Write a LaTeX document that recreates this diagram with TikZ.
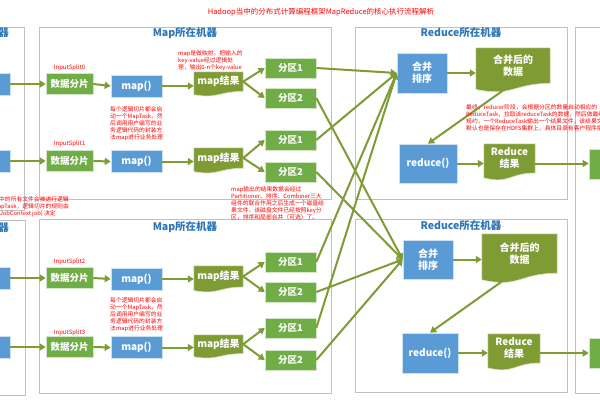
\documentclass[tikz,border=0pt]{standalone}
\usepackage{fontspec}
\setmainfont{Noto Sans CJK SC}
\usetikzlibrary{arrows.meta,calc}
\definecolor{gfill}{HTML}{70AD47}
\definecolor{bfill}{HTML}{5B9BD5}
\definecolor{dfill}{HTML}{7F9B34}
\definecolor{arr}{HTML}{7F9B34}
\definecolor{mframe}{HTML}{C0C0C0}
\definecolor{ttl}{HTML}{2E75B6}
\pgfdeclarelayer{bg}
\pgfsetlayers{bg,main}
\newcommand\docfill[1]{%
\begin{pgfonlayer}{bg}
\path[fill=dfill, draw=white!70!dfill, line width=0.6pt] let \p1=(#1.north west), \p2=(#1.south east), \p3=($(#1.north)-(#1.south)$) in
 (\x1,\y1) -- (\x2,\y1) -- (\x2,\y2) .. controls ({0.5*(\x1+\x2)},\y2) and ({0.5*(\x1+\x2)},{\y2-0.384*\y3}) .. (\x1,{\y2-0.168*\y3}) -- cycle;
\end{pgfonlayer}}
\tikzset{
 sz/.style 2 args={minimum width=#1pt, minimum height=#2pt},
 gbox/.style={fill=gfill, draw=white!70!gfill, line width=0.6pt, text=white, inner sep=0pt, font=\bfseries\fontsize{9.5}{11}\selectfont},
 bbox/.style={fill=bfill, draw=white!70!bfill, line width=0.6pt, text=white, inner sep=0pt, align=center, font=\bfseries\fontsize{10}{12}\selectfont},
 docnode/.style={inner sep=0pt, text=white, align=center, font=\bfseries\fontsize{10}{12}\selectfont},
 flow/.style={draw=arr, line width=2pt, -{Triangle[length=6pt,width=7pt]}},
 frm/.style={draw=mframe, line width=0.9pt},
 mlabel/.style={text=ttl, inner sep=0pt, font=\bfseries\fontsize{10.5}{12}\selectfont},
 note/.style={text=red, inner sep=0pt, align=left, font=\fontsize{5.8}{7}\selectfont},
 split/.style={text=red, inner sep=0pt, font=\fontsize{6}{7}\selectfont},
}
\begin{document}
\begin{tikzpicture}[x=1pt,y=-1pt]
\begin{pgfonlayer}{bg}
\fill[white] (0,0) rectangle (600,400);
\end{pgfonlayer}
\useasboundingbox (0,0) rectangle (600,400);
% machine frames
\draw[frm] (-5,27) rectangle (24,210);
\draw[frm] (-5,220) rectangle (25,395);
\draw[frm] (39,27) rectangle (331,199);
\draw[frm] (39,219) rectangle (331,393);
\draw[frm] (355,27) rectangle (567,199);
\draw[frm] (355,219) rectangle (567,392);
\draw[frm] (575,27) rectangle (620,393);
% labels
\node[note, text=red, font=\fontsize{7.5}{9}\selectfont] (title) at (321,12) {Hadoop当中的分布式计算编程框架MapReduce的核心执行流程解析};
\node[mlabel, anchor=east] (lbl0) at (9,33) {机器};
\node[mlabel] (lbl1) at (185,33) {Map所在机器};
\node[mlabel] (lbl2) at (461,33) {Reduce所在机器};
\node[mlabel, anchor=east] (lbl3) at (9,228) {机器};
\node[mlabel] (lbl4) at (185,227) {Map所在机器};
\node[mlabel] (lbl5) at (461,226) {Reduce所在机器};
% map rows
\foreach \i/\n/\yd/\ym/\yr/\hr/\ya/\yb/\yl in {1/0/84/86/81.6/19.2/68/98/68, 2/1/161/161.5/158/20/140/172/144, 3/2/278/279/276.4/20.8/262/292/262, 4/3/347/347.5/344.2/18.4/328/360/333}{
 \node[bbox, sz={20}{22}] (L\i) at (0,\yd) {};
 \node[split] (s\i) at (69.5,\yl) {InputSplit\n};
 \node[gbox, sz={47}{21}] (ds\i) at (69.5,\yd) {数据分片};
 \node[bbox, sz={51}{22}] (map\i) at (136.5,\ym) {map()};
 \node[docnode, sz={49}{\hr}] (mr\i) at (218.5,\yr) {map结果};
 \docfill{mr\i}
 \node[gbox, sz={51}{20}] (p\i1) at (290.5,\ya) {分区1};
 \node[gbox, sz={51}{20}] (p\i2) at (290.5,\yb) {分区2};
 \draw[flow] (L\i.east) -- (ds\i.west);
 \draw[flow] (ds\i.east) -- (map\i.west);
 \draw[flow] (map\i.east) -- (mr\i.west |- map\i.east);
 \draw[flow] (mr\i.east) -- (p\i1.west);
 \draw[flow] (mr\i.east) -- (p\i2.west);
}
% reduce side
\node[bbox, sz={50}{40}] (mg1) at (422,73) {合并\\排序};
\node[docnode, sz={74}{35.2}] (md1) at (513,65.6) {合并后的\\数据};
\docfill{md1}
\node[bbox, sz={58}{39}] (rd1) at (428,163.5) {reduce()};
\node[docnode, sz={51}{28.8}] (rr1) at (509.5,158.4) {Reduce\\结果};
\docfill{rr1}
\node[gbox, sz={31}{30}] (R1) at (604.5,164) {};
\node[bbox, sz={50}{39}] (mg2) at (428,259.5) {合并\\排序};
\node[docnode, sz={75}{39}] (md2) at (519.5,253.5) {合并后的\\数据};
\docfill{md2}
\node[bbox, sz={56}{40}] (rd2) at (430,353) {reduce()};
\node[docnode, sz={52}{28.8}] (rr2) at (514,348.4) {Reduce\\结果};
\docfill{rr2}
\node[gbox, sz={31}{30}] (R2) at (604.5,353) {};
% shuffle
\foreach \i in {1,...,4}{
 \draw[flow] (p\i1.east) -- (mg1.west);
 \draw[flow] (p\i2.east) -- (mg2.west);
}
\draw[flow] (mg1.east) -- (md1.west |- mg1.east);
\draw[flow] (md1.south) -- (rd1.north);
\draw[flow] (rd1.east) -- (rr1.west |- rd1.east);
\draw[flow] (rr1.east |- rd1.east) -- (R1.west |- rd1.east);
\draw[flow] (mg2.east) -- (md2.west |- mg2.east);
\draw[flow] ([xshift=-6pt]md2.south) -- (rd2.north);
\draw[flow] (rd2.east) -- (rr2.west |- rd2.east);
\draw[flow] (rr2.east |- rd2.east) -- (R2.west |- rd2.east);
% notes
\node[note, anchor=north west] (n1) at (178,50) {map是做映射，把输入的\\key-value经过逻辑处\\理，输出0-n个key-value};
\node[note, anchor=north west] (n2) at (110,106) {每个逻辑切片都会启\\动一个MapTask，然\\后调用用户编写的业\\务逻辑代码的封装方\\法map进行业务处理};
\node[note, anchor=north west] (n3) at (110,297) {每个逻辑切片都会启\\动一个MapTask，然\\后调用用户编写的业\\务逻辑代码的封装方\\法map进行业务处理};
\node[note, anchor=north west] (n4) at (231,186) {map输出的结果数据会经过\\Partitioner、排序、Combiner三大\\组件的联合作用之后生成一个磁盘结\\果文件，该磁盘文件已经按照key分\\区，排序和局部合并（可选）了。};
\node[note, anchor=north east, align=right] (n5) at (69,196) {件中的所有文件会被进行逻辑\\个MapTask，逻辑切片的规则由\\(JobContext job) 决定\rule{13pt}{0pt}};
\node[note, anchor=north west] (n6) at (466,104) {最终，reducer阶段，会根据分区的数量启动相应的\\ReduceTask，拉取该reduceTask的数据，然后做最终的\\规约，一个ReduceTask输出一个结果文件，该结果文件\\默认也是保存在HDFS集群上，具体目录有客户程序指定};
\end{tikzpicture}
\end{document}
